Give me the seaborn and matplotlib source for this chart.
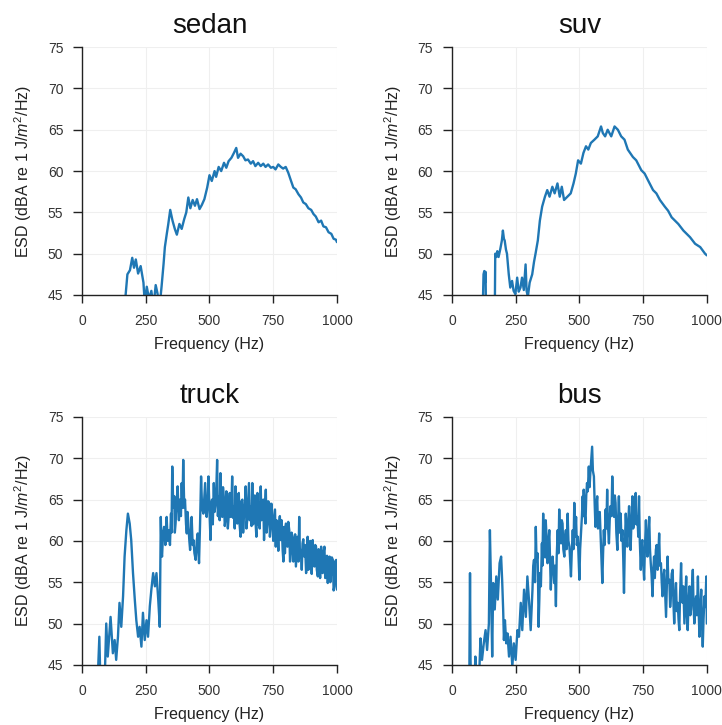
import matplotlib
matplotlib.use("Agg")
import matplotlib.pyplot as plt
import seaborn as sns
import pandas as pd

# Energy spectral density per vehicle class: (frequency in Hz, ESD in dBA)
sedan = [
    (164, 42), (171, 45.0), (178, 47.5), (188, 48.0), (197, 49.5), (204, 48.3), (211, 49.3),
    (220, 47.6), (230, 48.5), (241, 46.5), (246, 44), (254, 46.0), (263, 44.5), (272, 45.5),
    (280, 43.5), (289, 46.2), (296, 45.2), (304, 43.5), (312, 46.0), (320, 48.8), (325, 50.8),
    (333, 52.5), (338, 53.5), (346, 55.3), (355, 54.0), (364, 53.0), (372, 52.3), (382, 53.6),
    (391, 53.0), (401, 54.2), (409, 55.0), (417, 56.8), (425, 55.5), (434, 56.5), (443, 55.8),
    (451, 56.6), (461, 55.4), (470, 55.9), (480, 56.6), (491, 58.0), (500, 59.5), (509, 58.8),
    (520, 60.0), (526, 59.3), (536, 60.5), (546, 60.0), (557, 61.0), (566, 60.4), (575, 61.2),
    (586, 61.6), (596, 62.2), (605, 62.8), (612, 61.6), (622, 62.1), (632, 61.8), (641, 61.3),
    (651, 61.4), (662, 60.9), (671, 61.2), (680, 60.6), (691, 61.0), (701, 60.6), (711, 60.9),
    (720, 60.5), (730, 60.8), (741, 60.4), (750, 60.5), (759, 60.2), (770, 60.8), (780, 60.5),
    (789, 60.3), (799, 60.5), (809, 59.8), (820, 58.8), (829, 58.0), (838, 57.8), (849, 57.2),
    (859, 56.8), (868, 56.2), (878, 56.0), (888, 55.5), (899, 55.3), (908, 54.8), (917, 54.5),
    (928, 53.8), (938, 54.0), (947, 53.3), (957, 53.2), (967, 52.6), (978, 52.4), (987, 51.8),
    (996, 51.7), (1000, 51.4),
]

suv = [
    (120, 42), (124, 47.5), (127, 47.9), (130, 46.5), (132, 47.8), (134, 42),
    (168, 42), (170, 50.0), (174, 49.6), (178, 50.3), (183, 49.6), (190, 50.6), (196, 51.6),
    (200, 52.8), (204, 51.8), (207, 51.6), (212, 50.5), (216, 50.0), (223, 47.5), (229, 45.9),
    (236, 46.7), (242, 45.5), (249, 45.1), (256, 47.1), (262, 45.4), (269, 45.9), (275, 47.1),
    (282, 45.6), (289, 48.7), (293, 45.5), (298, 44.8), (305, 46.5), (315, 47.5), (322, 49.0),
    (328, 50.0), (337, 51.6), (345, 54.0), (354, 55.7), (365, 56.9), (374, 57.7), (383, 56.9),
    (394, 58.1), (403, 57.3), (414, 58.5), (423, 56.9), (431, 58.1), (440, 56.5), (453, 56.9),
    (466, 57.3), (477, 58.5), (486, 59.7), (495, 61.3), (506, 60.9), (516, 62.2), (526, 63.0),
    (535, 62.6), (545, 63.4), (559, 63.8), (572, 64.2), (585, 65.4), (592, 64.6), (601, 64.2),
    (611, 65.0), (625, 64.2), (638, 65.4), (651, 65.0), (664, 64.2), (677, 63.8), (690, 62.6),
    (710, 61.7), (723, 61.3), (743, 60.1), (756, 59.7), (769, 58.9), (789, 57.7), (802, 57.3),
    (816, 56.5), (835, 55.7), (848, 55.2), (862, 54.4), (875, 54.0), (888, 53.6), (908, 52.8),
    (921, 52.4), (934, 52.0), (954, 51.2), (974, 50.8), (993, 50.0), (1000, 49.8),
]

truck = [
    (60, 42), (66, 47.0), (68, 48.4), (72, 43), (88, 42), (95, 50.0), (101, 46.0), (112, 50.8),
    (121, 46.4), (128, 48.0), (134, 45.6), (141, 48.4), (147, 52.5), (154, 49.6), (161, 53.3),
    (167, 58.1), (174, 61.3), (180, 63.3), (187, 62.1), (193, 60.1), (200, 56.1), (207, 52.9),
    (213, 50.4), (220, 48.4), (226, 49.6), (233, 47.2), (239, 51.3), (246, 48.0), (253, 50.4),
    (259, 48.4), (266, 52.1), (272, 54.1), (279, 56.1), (286, 54.5), (292, 56.1), (299, 52.9),
    (305, 49.6), (309, 62.9), (312, 58.5), (314, 58.1), (318, 61.0), (322, 61.7), (327, 59.5),
    (332, 62.9), (336, 60.0), (341, 61.3), (345, 59.5), (349, 63.3), (351, 61.0), (354, 69.0),
    (358, 64.0), (362, 65.4), (364, 61.0), (367, 62.1), (371, 64.5), (375, 66.6), (380, 62.5),
    (384, 65.0), (388, 63.0), (391, 67.0), (394, 64.0), (397, 69.8), (401, 64.0), (404, 65.0),
    (408, 62.0), (411, 60.9), (414, 63.5), (417, 62.1), (421, 60.0), (424, 58.9), (427, 61.0),
    (430, 62.9), (434, 59.5), (437, 60.1), (441, 58.5), (446, 57.7), (450, 60.0), (454, 60.9),
    (457, 58.5), (459, 57.3), (463, 62.0), (467, 67.8), (471, 64.0), (476, 63.3), (480, 65.5),
    (483, 67.0), (486, 63.5), (489, 62.9), (493, 65.0), (496, 67.8), (500, 63.5),
    (504, 60.1), (507, 64.5), (510, 65.0), (513, 62.0), (517, 67.0), (520, 63.5), (523, 64.2),
    (527, 66.5), (530, 69.8), (533, 63.0), (536, 65.4), (540, 62.5), (543, 68.2), (546, 64.0),
    (550, 62.9), (553, 66.5), (556, 65.4), (560, 61.8), (563, 62.5), (566, 66.0), (569, 65.8),
    (572, 61.5), (576, 63.3), (580, 65.8), (583, 62.9), (586, 64.0), (589, 67.8), (592, 62.8),
    (596, 64.2), (599, 61.5), (602, 66.6), (605, 63.0), (609, 62.1), (612, 65.5), (615, 65.8),
    (618, 62.0), (622, 60.5), (625, 64.8), (629, 65.0), (632, 61.0), (635, 62.9), (639, 64.5),
    (642, 66.6), (645, 61.5), (648, 62.5), (652, 65.0), (655, 67.0), (658, 62.5), (661, 64.2),
    (665, 61.8), (668, 67.0), (671, 62.0), (675, 63.3), (678, 65.5), (681, 62.1), (684, 60.5),
    (688, 65.8), (691, 62.0), (694, 64.6), (697, 61.5), (701, 66.6), (704, 62.5), (708, 63.3),
    (711, 65.0), (714, 60.1), (717, 63.5), (721, 66.2), (724, 61.0), (727, 62.1), (730, 64.8),
    (734, 64.6), (737, 60.5), (740, 61.7), (743, 64.5), (747, 62.9), (750, 60.0), (754, 62.1),
    (757, 63.8), (760, 59.3), (763, 62.5), (767, 61.3), (770, 58.8), (773, 62.1), (776, 63.0),
    (780, 60.1), (783, 62.5), (787, 58.9), (790, 57.5), (793, 61.7), (796, 58.5), (800, 62.1),
    (803, 60.0), (806, 59.3), (809, 62.3), (813, 61.3), (816, 57.5), (819, 58.5), (822, 61.0),
    (826, 60.5), (829, 57.5), (833, 58.9), (836, 60.8), (839, 56.9), (842, 58.5), (846, 60.5),
    (849, 57.5), (852, 62.9), (855, 58.0), (859, 58.9), (862, 56.5), (865, 59.7), (868, 60.2),
    (872, 58.1), (875, 59.5), (879, 56.1), (882, 58.0), (885, 60.5), (888, 56.5), (892, 57.7),
    (895, 60.0), (898, 58.5), (901, 56.0), (905, 60.1), (908, 57.0), (912, 56.9), (915, 59.5),
    (918, 59.3), (921, 56.5), (925, 55.7), (928, 59.0), (931, 58.1), (934, 55.5), (938, 59.3),
    (941, 57.0), (944, 56.1), (947, 58.5), (951, 59.3), (954, 55.5), (958, 56.9), (961, 58.2),
    (964, 54.9), (967, 57.0), (971, 58.1), (974, 55.0), (977, 56.1), (980, 58.0), (984, 57.7),
    (987, 54.0), (990, 54.5), (993, 57.5), (997, 57.7), (1000, 54.1),
]

bus = [
    (68, 42), (71, 56.1), (73, 45.6), (76, 42), (88, 42), (92, 46.0), (96, 42), (105, 42),
    (112, 48.2), (118, 45.6), (125, 47.6), (132, 49.2), (138, 46.8), (145, 50.0), (149, 61.3),
    (153, 55.3), (158, 46.0), (162, 54.9), (168, 51.7), (174, 55.7), (180, 52.9), (187, 57.3),
    (193, 58.1), (197, 55.3), (201, 51.7), (204, 48.0), (208, 50.4), (213, 47.6), (218, 48.8),
    (224, 46.0), (230, 48.4), (237, 44.8), (243, 47.6), (250, 45.6), (257, 49.2), (263, 48.4),
    (270, 52.5), (276, 49.2), (283, 54.1), (290, 50.8), (296, 55.7), (303, 52.5), (309, 49.2),
    (316, 54.1), (319, 57.0), (322, 57.7), (326, 55.0), (329, 61.7), (332, 57.5), (336, 58.5),
    (338, 55.0), (340, 49.6), (343, 53.0), (345, 56.1), (349, 54.5), (353, 59.7), (355, 57.0),
    (358, 63.3), (361, 58.5), (363, 61.3), (366, 58.0), (368, 62.5), (372, 60.0), (375, 57.3),
    (378, 59.5), (382, 61.3), (385, 57.5), (388, 54.1), (391, 57.0), (395, 58.1), (398, 56.5),
    (401, 54.9), (404, 57.0), (408, 52.1), (411, 58.0), (415, 61.3), (418, 58.5), (421, 63.8),
    (424, 60.0), (428, 59.7), (431, 62.5), (434, 62.1), (437, 59.0), (441, 58.1), (444, 60.5),
    (447, 61.3), (450, 59.0), (454, 63.3), (457, 60.0), (461, 59.3), (464, 57.5), (467, 55.7),
    (470, 58.5), (474, 61.3), (477, 59.0), (480, 64.6), (484, 60.5), (487, 62.9), (490, 59.5),
    (494, 60.5), (497, 58.0), (500, 55.3), (503, 59.0), (507, 61.3), (510, 63.0), (513, 65.4),
    (515, 63.0), (517, 66.2), (520, 63.5), (524, 62.1), (527, 65.5), (530, 67.0), (533, 66.0),
    (537, 69.0), (540, 66.5), (543, 68.2), (546, 69.5), (550, 71.4), (553, 68.5), (557, 67.8),
    (560, 64.5), (563, 61.7), (566, 64.0), (570, 65.4), (573, 61.5), (576, 62.9), (580, 63.5),
    (583, 60.9), (586, 58.0), (590, 54.9), (593, 58.5), (596, 61.3), (599, 59.5), (603, 63.8),
    (606, 61.5), (609, 66.2), (612, 62.0), (616, 59.7), (619, 62.5), (622, 64.2), (626, 63.0),
    (629, 67.8), (632, 64.5), (636, 62.9), (639, 65.5), (642, 64.6), (645, 61.0), (649, 58.9),
    (652, 62.5), (655, 65.4), (658, 61.0), (662, 63.3), (665, 60.0), (669, 61.3), (672, 58.0),
    (675, 53.7), (678, 59.0), (682, 63.3), (685, 61.0), (688, 59.3), (691, 62.0), (695, 64.2),
    (698, 61.0), (701, 58.9), (704, 62.0), (708, 65.4), (711, 61.5), (715, 62.1), (718, 64.0),
    (721, 65.8), (724, 62.0), (728, 62.9), (731, 60.5), (734, 65.4), (737, 60.0), (741, 56.5),
    (744, 59.5), (747, 60.1), (750, 57.5), (754, 55.3), (757, 59.0), (761, 62.5), (764, 59.5),
    (767, 58.1), (770, 60.5), (774, 62.9), (777, 59.0), (780, 57.3), (783, 56.0), (787, 53.3),
    (790, 56.5), (793, 58.1), (796, 55.5), (800, 58.9), (803, 59.5), (807, 56.5), (810, 58.5),
    (813, 60.9), (816, 57.0), (820, 57.3), (823, 55.0), (826, 53.3), (829, 55.5), (833, 56.5),
    (836, 54.0), (840, 50.8), (843, 54.5), (846, 58.1), (849, 55.0), (853, 55.3), (856, 52.0),
    (859, 53.3), (862, 56.0), (866, 56.5), (869, 52.5), (872, 50.0), (875, 53.0), (879, 54.9),
    (882, 51.5), (886, 52.5), (889, 50.5), (892, 49.2), (895, 53.5), (899, 57.3), (902, 53.0),
    (905, 52.5), (908, 54.5), (912, 50.0), (915, 52.5), (919, 55.7), (922, 51.0), (925, 49.2),
    (928, 52.5), (932, 54.5), (935, 51.0), (938, 51.7), (941, 54.0), (945, 56.5), (948, 52.0),
    (951, 50.0), (954, 52.5), (958, 53.3), (961, 51.0), (965, 55.7), (968, 51.5), (971, 48.4),
    (974, 51.5), (978, 54.1), (981, 50.0), (984, 47.2), (987, 50.5), (991, 53.3), (994, 52.0),
    (998, 55.7), (1000, 50.0),
]

vehicle_names = ["sedan", "suv", "truck", "bus"]
spectra = [sedan, suv, truck, bus]
freq_ticks = [0, 250, 500, 750, 1000]
esd_ticks = [45, 50, 55, 60, 65, 70, 75]

sns.set_theme(style="ticks")
plt.rcParams["font.family"] = ["Liberation Sans", "DejaVu Sans"]
plt.rcParams["mathtext.fontset"] = "custom"
plt.rcParams["mathtext.rm"] = "Liberation Sans"
plt.rcParams["mathtext.it"] = "Liberation Sans:italic"

fig, axes = plt.subplots(2, 2, figsize=(7.22, 7.25), dpi=100)
fig.subplots_adjust(left=0.1136, right=0.979, top=0.935, bottom=0.083,
                    wspace=0.451, hspace=0.492)

for ax, name, pairs in zip(axes.flat, vehicle_names, spectra):
    df = pd.DataFrame(pairs, columns=["freq", "esd"])
    sns.lineplot(data=df, x="freq", y="esd", ax=ax, estimator=None, sort=False,
                 color="#1f77b4", linewidth=1.7)
    ax.set_xlim(0, 1000)
    ax.set_ylim(45, 75)
    ax.set_xticks(freq_ticks)
    ax.set_yticks(esd_ticks)
    ax.grid(True, color="#efefef", linewidth=0.8)
    ax.set_axisbelow(True)
    ax.set_title(name, fontsize=20, pad=10, color="#111111")
    ax.set_xlabel("Frequency (Hz)", fontsize=11.5, color="#222222", labelpad=7)
    ax.set_ylabel(r"ESD (dBA re 1 J/$m^2$/Hz)", fontsize=11.5, color="#222222", labelpad=10)
    ax.tick_params(axis="x", labelsize=10, length=5.5, width=1.0, pad=8,
                   color="#222222", labelcolor="#333333")
    ax.tick_params(axis="y", labelsize=10, length=6.5, width=1.0, pad=7,
                   color="#222222", labelcolor="#333333")
    sns.despine(ax=ax)
    for side in ("left", "bottom"):
        ax.spines[side].set_color("#222222")
        ax.spines[side].set_linewidth(1.0)

fig.savefig("out.png", dpi=100)
